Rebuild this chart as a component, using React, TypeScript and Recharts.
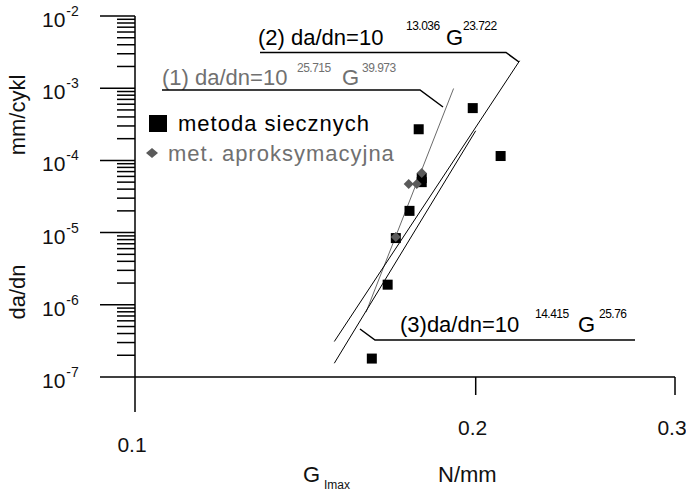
import React from "react";
import { ScatterChart, Scatter, XAxis, YAxis, Legend } from "recharts";

// metoda siecznych (black squares)
const secantG = [0.1781, 0.1988, 0.2104, 0.1792, 0.1792, 0.1748, 0.17, 0.1672, 0.1619];
const secantRate = [2.7e-4, 5.3e-4, 1.15e-4, 5.7e-5, 5.0e-5, 2.0e-5, 8.4e-6, 1.9e-6, 1.8e-7];

// met. aproksymacyjna (grey diamonds)
const approxG = [0.1745, 0.1774, 0.1792, 0.17];
const approxRate = [4.7e-5, 4.7e-5, 6.7e-5, 8.7e-6];

// fitted lines, end points
const fit1G = [0.16, 0.1912];
const fit1Rate = [7.9e-7, 9.9e-4];
const fit2G = [0.15, 0.2187];
const fit2Rate = [3.1e-7, 2.4e-3];
const fit3G = [0.15, 0.2];
const fit3Rate = [1.55e-7, 2.57e-4];

const xTicks = [0.1, 0.2, 0.3];
const xTickLabels = ["0.1", "0.2", "0.3"];
const yDecades = [1e-7, 1e-6, 1e-5, 1e-4, 1e-3, 1e-2];
const yExponents = ["-7", "-6", "-5", "-4", "-3", "-2"];
const minorSteps = [2, 3, 4, 5, 6, 7, 8, 9];

const toPoints = (gs: number[], rs: number[]) => gs.map((g, i) => ({ g, v: rs[i] }));

const secant = toPoints(secantG, secantRate);
const approx = toPoints(approxG, approxRate);
const fit1 = toPoints(fit1G, fit1Rate);
const fit2 = toPoints(fit2G, fit2Rate);
const fit3 = toPoints(fit3G, fit3Rate);

const yTicks: number[] = [];
yDecades.forEach((d, i) => {
  yTicks.push(d);
  if (i < yDecades.length - 1) minorSteps.forEach((m) => yTicks.push(d * m));
});

const FONT = "'Liberation Sans', Arial, sans-serif";
const GREY = "#707070";

const YTick = (props: any) => {
  const { x, y, payload } = props;
  const i = yDecades.findIndex((d) => Math.abs(payload.value / d - 1) < 1e-6);
  if (i < 0) {
    return <line x1={x - 18} x2={x} y1={y} y2={y} stroke="#000" strokeWidth={1.5} />;
  }
  return (
    <g>
      <line x1={x - 35} x2={x} y1={y} y2={y} stroke="#000" strokeWidth={1.5} />
      <text x={42} y={y + 11} fontSize={21} fontFamily={FONT} fill="#111">
        10
        <tspan dx={1} dy={-11} fontSize={14}>
          {yExponents[i]}
        </tspan>
      </text>
    </g>
  );
};

const XTick = (props: any) => {
  const { x, y, payload } = props;
  const i = xTicks.findIndex((t) => Math.abs(payload.value / t - 1) < 1e-6);
  const len = i === 0 ? 35 : 18;
  return (
    <g>
      <line x1={x} x2={x} y1={y} y2={y + len} stroke="#000" strokeWidth={1.5} />
      <text x={x - 3} y={y + len + 40} textAnchor="middle" fontSize={21} fontFamily={FONT} fill="#111">
        {xTickLabels[i]}
      </text>
    </g>
  );
};

const Square = (props: any) => (
  <rect x={props.cx - 5} y={props.cy - 5} width={10} height={10} fill="#000" />
);

const Diamond = (props: any) => {
  const { cx, cy } = props;
  return (
    <polygon
      points={`${cx},${cy - 5} ${cx + 5},${cy} ${cx},${cy + 5} ${cx - 5},${cy}`}
      fill="#5a5a5a"
    />
  );
};

const NoDot = () => <g />;

const LegendBox = () => (
  <svg width={270} height={62} style={{ overflow: "visible" }}>
    <rect x={9} y={7} width={18} height={17} fill="#000" />
    <text x={38} y={23} fontSize={22} letterSpacing={1} fontFamily={FONT} fill="#000">
      metoda siecznych
    </text>
    <polygon points="12,40 18,45 12,50 6,45" fill="#5a5a5a" />
    <text x={28} y={53} fontSize={22} letterSpacing={1} fontFamily={FONT} fill={GREY}>
      met. aproksymacyjna
    </text>
  </svg>
);

export default function App() {
  return (
    <div style={{ position: "absolute", left: 0, top: 0, width: 686, height: 491, background: "#fff" }}>
      <ScatterChart width={686} height={491} margin={{ top: 16, right: 11, bottom: 0, left: 0 }}>
        <XAxis
          type="number"
          dataKey="g"
          scale="log"
          domain={[0.1, 0.3]}
          ticks={xTicks}
          interval={0}
          allowDataOverflow
          height={114}
          tickLine={false}
          tickSize={0}
          tickMargin={0}
          tick={<XTick />}
          axisLine={{ stroke: "#000", strokeWidth: 1.5 }}
        />
        <YAxis
          type="number"
          dataKey="v"
          scale="log"
          domain={[1e-7, 1e-2]}
          ticks={yTicks}
          interval={0}
          allowDataOverflow
          width={135}
          tickLine={false}
          tickSize={0}
          tickMargin={0}
          tick={<YTick />}
          axisLine={{ stroke: "#000", strokeWidth: 1.5 }}
        />
        <Legend
          layout="vertical"
          align="center"
          verticalAlign="middle"
          wrapperStyle={{ left: 140, top: 108, width: 270, height: 62 }}
          content={LegendBox}
        />
        <Scatter data={fit1} line={{ stroke: "#6a6a6a", strokeWidth: 1 }} shape={NoDot} legendType="none" isAnimationActive={false} />
        <Scatter data={fit2} line={{ stroke: "#000", strokeWidth: 1 }} shape={NoDot} legendType="none" isAnimationActive={false} />
        <Scatter data={fit3} line={{ stroke: "#000", strokeWidth: 1 }} shape={NoDot} legendType="none" isAnimationActive={false} />
        <Scatter name="metoda siecznych" data={secant} shape={Square} isAnimationActive={false} />
        <Scatter name="met. aproksymacyjna" data={approx} shape={Diamond} isAnimationActive={false} />
      </ScatterChart>
      <svg
        width={686}
        height={491}
        style={{ position: "absolute", left: 0, top: 0, pointerEvents: "none" }}
        fontFamily={FONT}
      >
        <text transform="translate(25,115) rotate(-90)" textAnchor="middle" fontSize={22} fill="#111">
          mm/cykl
        </text>
        <text transform="translate(25,292) rotate(-90)" textAnchor="middle" fontSize={22} fill="#111">
          da/dn
        </text>

        <text x={303} y={482} fontSize={22} fill="#111">G</text>
        <text x={324} y={489} fontSize={12} fill="#111">Imax</text>
        <text x={438} y={482} fontSize={22} fill="#111">N/mm</text>

        <text x={258} y={45} fontSize={22} fill="#000">(2) da/dn=10</text>
        <text x={406} y={30} fontSize={12} letterSpacing={-0.5} fill="#000">13.036</text>
        <text x={446} y={45} fontSize={22} fill="#000">G</text>
        <text x={463} y={30} fontSize={12} letterSpacing={-0.5} fill="#000">23.722</text>
        <polyline points="260,52.5 506,52.5 519,62" fill="none" stroke="#000" strokeWidth={1.5} />

        <text x={162} y={85} fontSize={22} fill={GREY}>(1) da/dn=10</text>
        <text x={297} y={72} fontSize={12} letterSpacing={-0.5} fill={GREY}>25.715</text>
        <text x={342} y={85} fontSize={22} fill={GREY}>G</text>
        <text x={362} y={72} fontSize={12} letterSpacing={-0.5} fill={GREY}>39.973</text>
        <polyline points="162,90 420,90 443,107" fill="none" stroke="#000" strokeWidth={1.5} />

        <text x={400} y={332} fontSize={22} fill="#000">(3)da/dn=10</text>
        <text x={535} y={318} fontSize={12} letterSpacing={-0.5} fill="#000">14.415</text>
        <text x={578} y={332} fontSize={22} fill="#000">G</text>
        <text x={599} y={318} fontSize={12} letterSpacing={-0.5} fill="#000">25.76</text>
        <polyline points="635,340 375,340 360,329" fill="none" stroke="#000" strokeWidth={1.5} />
      </svg>
    </div>
  );
}
